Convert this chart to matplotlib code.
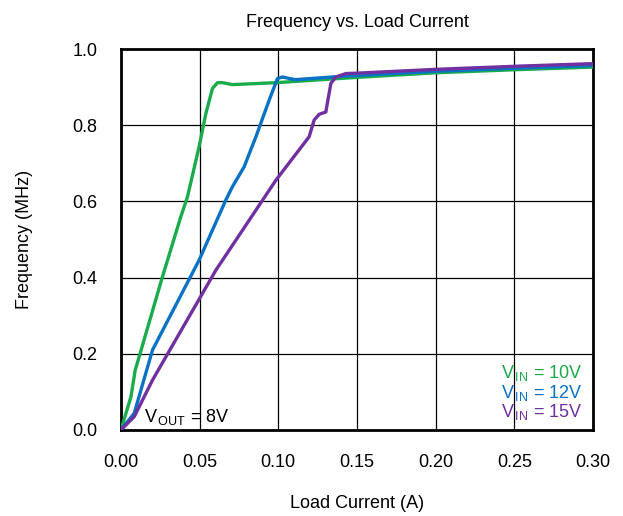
import matplotlib
matplotlib.use("Agg")
import matplotlib.pyplot as plt

plt.rcParams["font.family"] = ["Liberation Sans", "DejaVu Sans"]
plt.rcParams["mathtext.fontset"] = "custom"
plt.rcParams["mathtext.rm"] = "Liberation Sans"
plt.rcParams["mathtext.it"] = "Liberation Sans"

# load current (A) / frequency (MHz)
x_10v = [0.0, 0.0064, 0.0091, 0.0116, 0.0264, 0.038, 0.0423, 0.0497, 0.054, 0.0582,
         0.0614, 0.0646, 0.0709, 0.0985, 0.15, 0.20, 0.25, 0.30]
y_10v = [0.0, 0.087, 0.157, 0.192, 0.402, 0.559, 0.612, 0.744, 0.831, 0.897,
         0.912, 0.912, 0.907, 0.912, 0.926, 0.938, 0.946, 0.953]

x_12v = [0.0, 0.0085, 0.0201, 0.0497, 0.0667, 0.0709, 0.0783, 0.0858, 0.0942, 0.0995,
         0.1027, 0.107, 0.111, 0.141, 0.20, 0.25, 0.30]
y_12v = [0.0, 0.044, 0.21, 0.446, 0.604, 0.639, 0.691, 0.770, 0.866, 0.923,
         0.927, 0.923, 0.920, 0.929, 0.942, 0.950, 0.957]

x_15v = [0.0, 0.0085, 0.0201, 0.0604, 0.0985, 0.1196, 0.1228, 0.126, 0.1302, 0.1334,
         0.1366, 0.143, 0.15, 0.20, 0.25, 0.30]
y_15v = [0.0, 0.035, 0.131, 0.42, 0.656, 0.770, 0.814, 0.829, 0.835, 0.910,
         0.927, 0.936, 0.937, 0.947, 0.955, 0.962]

series = [
    (x_10v, y_10v, "#1aab4b", r"$\mathrm{V_{\,IN}}$ = 10V"),
    (x_12v, y_12v, "#0a72c4", r"$\mathrm{V_{\,IN}}$ = 12V"),
    (x_15v, y_15v, "#7030a0", r"$\mathrm{V_{\,IN}}$ = 15V"),
]

FS = 13

fig = plt.figure(figsize=(6.23, 5.16), dpi=100)
ax = fig.add_axes([0.194, 0.1667, 0.758, 0.738])

for xs, ys, c, _ in series:
    ax.plot(xs, ys, color=c, lw=2.4, solid_joinstyle="round", zorder=3)

ax.set_xlim(0, 0.30)
ax.set_ylim(0, 1.0)
ax.set_xticks([0.0, 0.05, 0.10, 0.15, 0.20, 0.25, 0.30])
ax.set_xticklabels(["0.00", "0.05", "0.10", "0.15", "0.20", "0.25", "0.30"])
ax.set_yticks([0.0, 0.2, 0.4, 0.6, 0.8, 1.0])
ax.set_yticklabels(["0.0", "0.2", "0.4", "0.6", "0.8", "1.0"])
ax.tick_params(length=0, labelsize=FS)
ax.tick_params(axis="x", pad=17)
ax.tick_params(axis="y", pad=17)
ax.grid(True, color="black", lw=0.9)
for s in ax.spines.values():
    s.set_linewidth(2)

ax.set_xlabel("Load Current (A)", fontsize=FS)
ax.xaxis.set_label_coords(0.5, -0.17)
ax.set_ylabel("Frequency (MHz)", fontsize=FS)
ax.yaxis.set_label_coords(-0.186, 0.5)
ax.set_title("Frequency vs. Load Current", fontsize=FS, pad=16)

ax.text(0.015, 0.008, r"$\mathrm{V_{\,OUT}}$ = 8V", fontsize=FS, va="bottom", ha="left")
for i, (_, _, c, lab) in enumerate(series):
    ax.text(0.2935, 0.150 - i * 0.052, lab, color=c, fontsize=FS, ha="right", va="center")

fig.savefig("out.png", dpi=100)
